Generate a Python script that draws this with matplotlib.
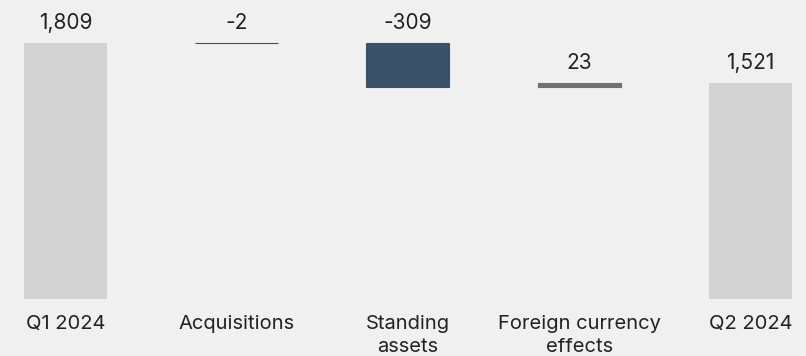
import numpy as np
import matplotlib
matplotlib.use("Agg")
import matplotlib.pyplot as plt

plt.rcParams['font.family'] = ['Inter', 'DejaVu Sans']

categories = ['Q1 2024', 'Acquisitions', 'Standing\nassets', 'Foreign currency\neffects', 'Q2 2024']
values = [1809, -2, -309, 23, 1521]
is_total = [True, False, False, False, True]

bg = '#f0f0f0'
total_color = '#d3d3d3'
neg_color = '#3b5169'
pos_color = '#707070'
text_color = '#222222'

fig = plt.figure(figsize=(8.06, 3.56), dpi=100, facecolor=bg)
ax = fig.add_axes([0, 0, 1, 1], facecolor=bg)

x = np.arange(len(values))
running = 0
for i, (v, tot) in enumerate(zip(values, is_total)):
    if tot:
        ax.bar(x[i], v, width=0.485, color=total_color, linewidth=0)
        top = v
        running = v
    else:
        bottom = running + min(v, 0)
        color = neg_color if v < 0 else pos_color
        ax.bar(x[i], abs(v), bottom=bottom, width=0.485, color=color,
               edgecolor=color, linewidth=0.8)
        top = max(running, running + v)
        running += v
    # value label above each bar
    ax.annotate(f'{v:,}', (x[i], top), xytext=(0, 10), textcoords='offset points',
                ha='center', va='baseline', fontsize=15, color=text_color)

ax.set_xlim(-0.383, 4.325)
ax.set_ylim(-406, 2110)
for s in ax.spines.values():
    s.set_visible(False)
ax.set_yticks([])
ax.set_xticks([])
for i, c in enumerate(categories):
    ax.annotate(c, (x[i], 0), xytext=(0, -12), textcoords='offset points',
                ha='center', va='top', fontsize=14.5, color=text_color,
                linespacing=1.35)

fig.savefig('out.png', dpi=100, facecolor=bg)
